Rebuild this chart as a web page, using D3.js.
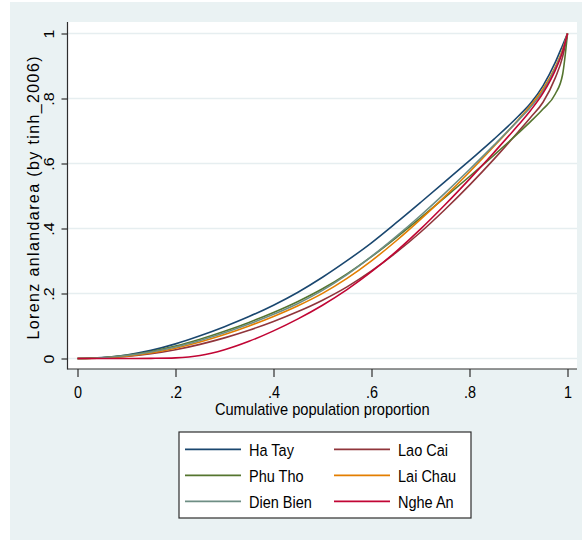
<!DOCTYPE html>
<html>
<head>
<meta charset="utf-8">
<script src="https://cdn.jsdelivr.net/npm/d3@7"></script>
<style>
  html, body { margin: 0; padding: 0; background: #ffffff; }
  svg { display: block; }
  text { font-family: "Liberation Sans", Arial, sans-serif; fill: #000; }
</style>
</head>
<body>
<svg id="chart" width="584" height="542"></svg>
<script>
// Cumulative population proportion (shared x values for every province)
const popShare = [0, .05, .1, .15, .2, .25, .3, .35, .4, .45, .5, .55, .6, .65, .7, .75, .8, .85, .9, .925, .95, .975, .99, 1];

// Lorenz ordinates of land area by province
const haTay    = [0, .003, .011, .025, .045, .070, .098, .129, .164, .204, .250, .301, .356, .417, .480, .544, .609, .675, .746, .786, .839, .911, .964, 1];
const laoCai   = [0, .0015, .006, .0145, .027, .0435, .0635, .087, .114, .1445, .1795, .2205, .2695, .3255, .3885, .4585, .5335, .6135, .6985, .7423, .7885, .8635, .928, 1];
const phuTho   = [0, .0025, .0095, .0215, .038, .059, .0835, .111, .1415, .1755, .2145, .2605, .3135, .3715, .4325, .4955, .560, .626, .694, .7295, .7675, .8138, .8738, 1];
const laiChau  = [0, .0015, .007, .017, .0315, .0505, .0735, .100, .1295, .1625, .2005, .2465, .3005, .3615, .428, .499, .574, .653, .7355, .7793, .8293, .8968, .9508, 1];
const dienBien = [0, .0025, .009, .020, .0355, .0555, .079, .106, .136, .1695, .2095, .258, .314, .375, .440, .509, .5815, .6565, .7335, .774, .8228, .8928, .9468, 1];
const ngheAn   = [0, 0, 0, .0005, .002, .009, .027, .053, .085, .122, .164, .212, .267, .329, .398, .473, .552, .634, .719, .764, .8165, .8865, .9435, 1];

const seriesNames  = ["Ha Tay", "Lao Cai", "Phu Tho", "Lai Chau", "Dien Bien", "Nghe An"];
const seriesValues = [haTay, laoCai, phuTho, laiChau, dienBien, ngheAn];
const seriesColors = ["#1a476f", "#90353b", "#55752f", "#e37e00", "#6e8e84", "#c10534"];

const xTicks = [0, .2, .4, .6, .8, 1];
const xTickLabels = ["0", ".2", ".4", ".6", ".8", "1"];
const yTicks = [0, .2, .4, .6, .8, 1];
const yTickLabels = ["0", ".2", ".4", ".6", ".8", "1"];
const xTitle = "Cumulative population proportion";
const yTitle = "Lorenz anlandarea (by tinh_2006)";

const svg = d3.select("#chart");

// Graph region background
svg.append("rect").attr("x", 10).attr("y", 2).attr("width", 572).attr("height", 538)
  .attr("fill", "#eaf2f3");

// Plot region
const plot = { left: 67.5, right: 577, top: 22, bottom: 369 };
svg.append("rect").attr("x", plot.left).attr("y", plot.top)
  .attr("width", plot.right - plot.left).attr("height", plot.bottom - plot.top)
  .attr("fill", "#ffffff");

const x = d3.scaleLinear().domain([0, 1]).range([77.5, 567.5]);
const y = d3.scaleLinear().domain([0, 1]).range([358.5, 33.5]);

// Horizontal grid lines
svg.append("g").selectAll("line").data(yTicks).join("line")
  .attr("x1", plot.left).attr("x2", plot.right)
  .attr("y1", d => y(d)).attr("y2", d => y(d))
  .attr("stroke", "#e6eef0").attr("stroke-width", 1.6);

// Lorenz curves
const line = d3.line()
  .x(d => x(d[0])).y(d => y(d[1]))
  .curve(d3.curveMonotoneX);

svg.append("g").selectAll("path")
  .data(seriesValues.map((vals, i) => ({ pts: popShare.map((p, j) => [p, vals[j]]), color: seriesColors[i] })))
  .join("path")
  .attr("d", d => line(d.pts))
  .attr("fill", "none")
  .attr("stroke", d => d.color)
  .attr("stroke-width", 1.6)
  .attr("stroke-linejoin", "round");

// Axis lines
const axisColor = "#2e2e2e";
svg.append("line").attr("x1", plot.left).attr("x2", plot.left)
  .attr("y1", plot.top).attr("y2", plot.bottom + 0.5)
  .attr("stroke", axisColor).attr("stroke-width", 1.2);
svg.append("line").attr("x1", plot.left).attr("x2", plot.right)
  .attr("y1", plot.bottom).attr("y2", plot.bottom)
  .attr("stroke", axisColor).attr("stroke-width", 1.2);

// X axis
const xAxis = d3.axisBottom(x).tickValues(xTicks)
  .tickFormat((d, i) => xTickLabels[i]).tickSizeInner(8).tickSizeOuter(0).tickPadding(0);
const gx = svg.append("g").attr("transform", `translate(0,${plot.bottom})`).call(xAxis);
gx.select(".domain").remove();
gx.selectAll(".tick line").attr("stroke", axisColor).attr("stroke-width", 1.2);
gx.selectAll(".tick text")
  .attr("y", 0).attr("dy", null)
  .attr("transform", "translate(0,29) scale(0.9,1)")
  .attr("font-size", 16).attr("font-family", "Liberation Sans, Arial, sans-serif")
  .attr("fill", "#000").attr("text-anchor", "middle");

// Y axis
const yAxis = d3.axisLeft(y).tickValues(yTicks)
  .tickFormat((d, i) => yTickLabels[i]).tickSizeInner(6).tickSizeOuter(0).tickPadding(0);
const gy = svg.append("g").attr("transform", `translate(${plot.left},0)`).call(yAxis);
gy.select(".domain").remove();
gy.selectAll(".tick line").attr("stroke", axisColor).attr("stroke-width", 1.2);
gy.selectAll(".tick text")
  .attr("x", 0).attr("y", 0).attr("dy", null)
  .attr("transform", "translate(-13.5,0) rotate(-90) scale(1,0.95)")
  .attr("font-size", 16).attr("font-family", "Liberation Sans, Arial, sans-serif")
  .attr("fill", "#000").attr("text-anchor", "middle");

// Axis titles
svg.append("text")
  .attr("transform", `translate(${(plot.left + plot.right) / 2},415) scale(0.915,1)`)
  .attr("text-anchor", "middle").attr("font-size", 16)
  .text(xTitle);

svg.append("text")
  .attr("transform", "translate(39,198) rotate(-90)")
  .attr("text-anchor", "middle").attr("font-size", 16)
  .attr("textLength", 283).attr("lengthAdjust", "spacing")
  .text(yTitle);

// Legend (two columns, filled row-wise)
const legend = { x: 179, y: 432, w: 292, h: 86 };
svg.append("rect").attr("x", legend.x).attr("y", legend.y)
  .attr("width", legend.w).attr("height", legend.h)
  .attr("fill", "#ffffff").attr("stroke", "#2e2e2e").attr("stroke-width", 1.2);

const colX = [185, 334];
const rowY = [449.3, 475.3, 501.3];
const items = seriesNames.map((name, i) => ({
  name, color: seriesColors[i], cx: colX[i % 2], cy: rowY[Math.floor(i / 2)]
}));
const lg = svg.append("g").selectAll("g").data(items).join("g");
lg.append("line")
  .attr("x1", d => d.cx).attr("x2", d => d.cx + 56)
  .attr("y1", d => d.cy).attr("y2", d => d.cy)
  .attr("stroke", d => d.color).attr("stroke-width", 1.8);
lg.append("text")
  .attr("transform", d => `translate(${d.cx + 64},${d.cy + 6.5}) scale(0.88,1)`)
  .attr("font-size", 16.5)
  .text(d => d.name);
</script>
</body>
</html>
